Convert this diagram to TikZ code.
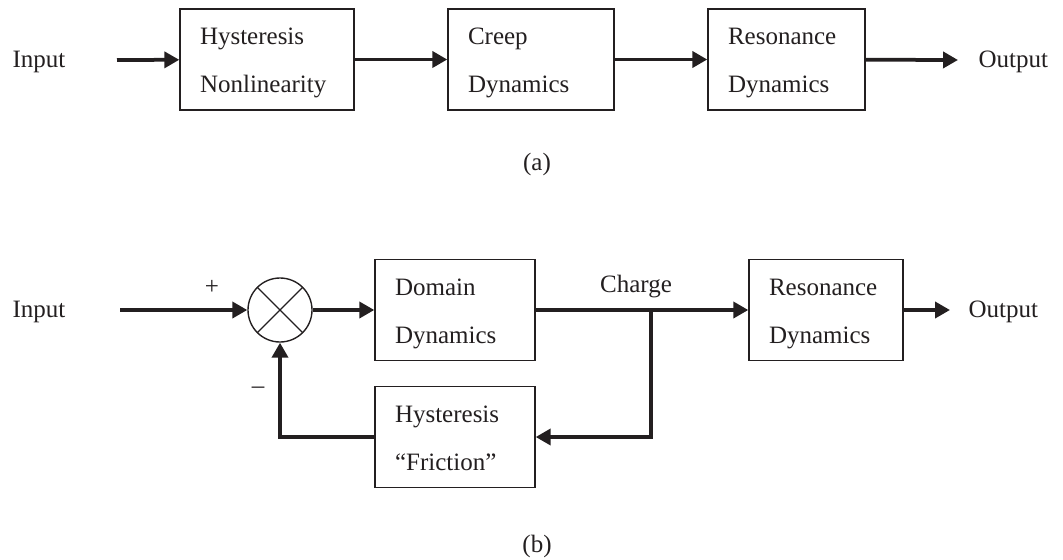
\documentclass[tikz,border=0pt]{standalone}
\usepackage{fontspec}
\setmainfont{Liberation Serif}
\usetikzlibrary{arrows.meta,positioning}
\definecolor{ink}{RGB}{35,31,32}
\newcommand{\twolines}[2]{\rule{0pt}{10pt}#1\\#2\rule[-2.5pt]{0pt}{2.5pt}}

\begin{document}
\begin{tikzpicture}[x=0.4pt,y=-0.4pt,
	block/.style={draw=ink,line width=0.55pt,align=left,inner xsep=8pt,inner ysep=0pt,minimum height=40.4pt,text=ink,font=\fontsize{10}{19.2}\selectfont},
	sig/.style={draw=ink,line width=1.5pt,-{Triangle[length=6pt,width=6.4pt]}},
	lbl/.style={text=ink,inner sep=0pt,font=\fontsize{10}{12}\selectfont}]
	\useasboundingbox (0,0) rectangle (1063,559);

	% (a) open chain
	\node[lbl] (inA) at (39,62) {Input};
	\node[block,text width=53.6pt] (hystA) at (267,59.5) {\twolines{Hysteresis}{Nonlinearity}};
	\node[block,text width=50.4pt] (creep) at (531,59.5) {\twolines{Creep}{Dynamics}};
	\node[block,text width=46.8pt] (resA) at (786.5,59.5) {\twolines{Resonance}{Dynamics}};
	\node[lbl,anchor=west] (outA) at (978,62) {Output};
	\coordinate (a0) at (117,60);
	\coordinate (a1) at (958,60);
	\draw[sig] (a0) -- (hystA);
	\draw[sig] (hystA) -- (creep);
	\draw[sig] (creep) -- (resA);
	\draw[sig] (resA) -- (a1);
	\node[lbl] (capA) at (537,164) {(a)};

	% (b) with friction feedback
	\node[lbl] (inB) at (39,312) {Input};
	\node[draw=ink,line width=0.55pt,circle,minimum size=25.6pt,inner sep=0pt] (sum) at (280,310) {};
	\draw[ink,line width=0.55pt] (sum.north west) -- (sum.south east) (sum.north east) -- (sum.south west);
	\node[block,text width=48pt] (domain) at (455,310) {\twolines{Domain}{Dynamics}};
	\node[block,text width=45.6pt] (resB) at (826,310) {\twolines{Resonance}{Dynamics}};
	\node[block,text width=48pt] (fric) at (455,437) {\twolines{Hysteresis}{“Friction”}};
	\node[lbl,anchor=west] (outB) at (968,312) {Output};
	\node[lbl] (plus) at (212,287) {+};
	\node[lbl] (minus) at (258,390) {–};
	\node[lbl] (charge) at (636,287) {Charge};
	\coordinate (b0) at (120,310);
	\coordinate (b1) at (950,310);
	\coordinate (branch) at (651,310);
	\draw[sig] (b0) -- (sum.west);
	\draw[sig] (sum.east) -- (domain.west);
	\draw[sig] (domain.east) -- (resB.west);
	\draw[sig] (resB.east) -- (b1);
	\draw[sig] (branch) |- (fric.east);
	\draw[sig] (fric.west) -| (sum.south);
	\node[lbl] (capB) at (537,546) {(b)};
\end{tikzpicture}
\end{document}
